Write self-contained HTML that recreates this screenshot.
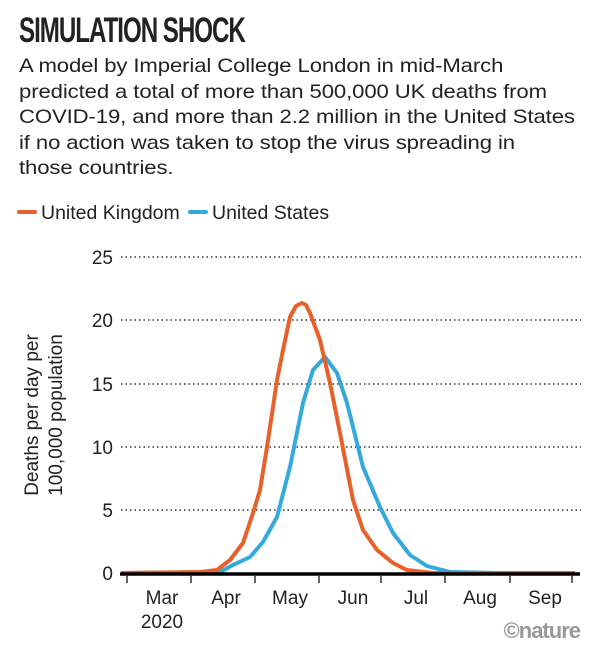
<!DOCTYPE html>
<html><head><meta charset="utf-8"><style>
body{margin:0;background:#fff;width:600px;height:660px;overflow:hidden;font-family:"Liberation Sans",sans-serif;color:#222}
.t{position:absolute;left:19px;top:12px;font-size:35px;font-weight:bold;letter-spacing:-1.5px;transform:scaleX(0.69);transform-origin:left;line-height:38px;white-space:nowrap}
.d{position:absolute;left:19px;top:54px;font-size:19.5px;line-height:25.6px;width:600px;letter-spacing:-0.1px;transform:scaleX(1.135);transform-origin:left;white-space:nowrap}
</style></head><body>
<div class="t">SIMULATION SHOCK</div>
<div class="d">A model by Imperial College London in mid-March<br>predicted a total of more than 500,000 UK deaths from<br>COVID-19, and more than 2.2 million in the United States<br>if no action was taken to stop the virus spreading in<br>those countries.</div>
<svg width="600" height="660" style="position:absolute;left:0;top:0" font-family="Liberation Sans, sans-serif">
<line x1="19" y1="212" x2="35" y2="212" stroke="#e8602a" stroke-width="4" stroke-linecap="round"/>
<text x="41" y="219" font-size="19.5" fill="#222">United Kingdom</text>
<line x1="190" y1="212" x2="206" y2="212" stroke="#35a9dc" stroke-width="4" stroke-linecap="round"/>
<text x="212" y="219" font-size="19.5" fill="#222">United States</text>
<g stroke="#333" stroke-width="1.5" stroke-dasharray="1.5,3">
<line x1="121" y1="257" x2="581" y2="257"/><line x1="121" y1="320" x2="581" y2="320"/><line x1="121" y1="384" x2="581" y2="384"/><line x1="121" y1="447" x2="581" y2="447"/><line x1="121" y1="510" x2="581" y2="510"/>
</g>
<g font-size="19" fill="#222" text-anchor="end">
<text x="113" y="264">25</text><text x="113" y="327">20</text><text x="113" y="391">15</text><text x="113" y="454">10</text><text x="113" y="517">5</text><text x="113" y="580">0</text>
</g>
<text transform="translate(38,415) rotate(-90)" font-size="19" fill="#222" text-anchor="middle">Deaths per day per</text>
<text transform="translate(62,415) rotate(-90)" font-size="19" fill="#222" text-anchor="middle">100,000 population</text>
<polyline fill="none" stroke="#35a9dc" stroke-width="4" stroke-linejoin="round" points="121,573 220,572 233,565 250,557 263,542 277,517 290,467 303,403 313,370 325,357 337,373 347,403 363,467 380,507 393,533 410,555 427,566 450,572 500,573 575,573"/>
<polyline fill="none" stroke="#e8602a" stroke-width="4" stroke-linejoin="round" points="121,573 200,572 217,570 230,560 243,543 253,513 260,490 267,447 273,407 277,380 283,350 290,317 296,306 302,303 306,305 310,313 320,340 330,383 340,433 353,500 363,530 377,550 393,563 407,570 433,573 575,573"/>
<line x1="120" y1="574" x2="580" y2="574" stroke="#000" stroke-width="3.5"/>
<g stroke="#333" stroke-width="1.5">
<line x1="127" y1="575" x2="127" y2="583"/><line x1="191" y1="575" x2="191" y2="583"/><line x1="255" y1="575" x2="255" y2="583"/><line x1="319" y1="575" x2="319" y2="583"/><line x1="381" y1="575" x2="381" y2="583"/><line x1="445" y1="575" x2="445" y2="583"/><line x1="510" y1="575" x2="510" y2="583"/><line x1="572" y1="575" x2="572" y2="583"/>
</g>
<g font-size="19" fill="#222" text-anchor="middle">
<text x="162" y="604">Mar</text><text x="162" y="628">2020</text><text x="226" y="604">Apr</text><text x="290" y="604">May</text><text x="353" y="604">Jun</text><text x="416" y="604">Jul</text><text x="480" y="604">Aug</text><text x="545" y="604">Sep</text>
</g>
<text x="580" y="638" font-size="22" font-weight="bold" fill="#999" text-anchor="end" letter-spacing="-1">©nature</text>
</svg>
</body></html>
